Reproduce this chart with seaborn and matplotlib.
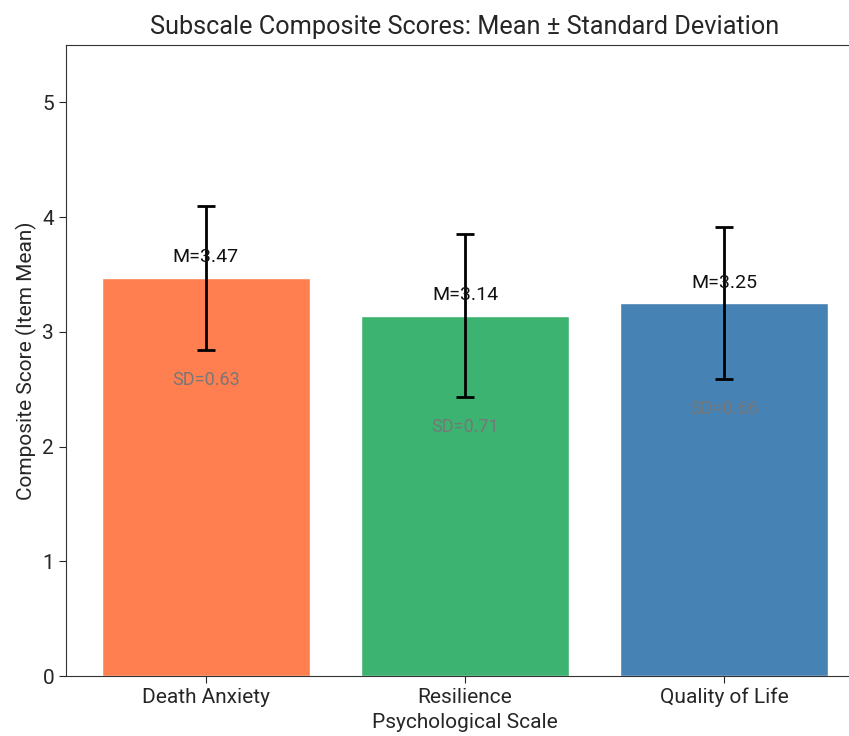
import matplotlib
matplotlib.use("Agg")
import matplotlib.pyplot as plt
import seaborn as sns
import pandas as pd

scales = ["Death Anxiety", "Resilience", "Quality of Life"]
means = [3.47, 3.14, 3.25]
sds = [0.63, 0.71, 0.66]
colors = ["#FF7F50", "#3CB371", "#4682B4"]

sns.set_style("ticks")
plt.rcParams['font.family'] = ['Roboto', 'DejaVu Sans']

df = pd.DataFrame({"scale": scales, "mean": means})

fig = plt.figure(figsize=(8.49, 7.36), dpi=100)
ax = fig.add_axes([66/849, 60/736, 798/849, 631/736])

sns.barplot(data=df, x="scale", y="mean", hue="scale", palette=colors,
            width=0.8, legend=False, ax=ax, saturation=1)
ax.errorbar(range(len(scales)), means, yerr=sds, fmt="none", ecolor="black",
            elinewidth=2, capsize=6.5, capthick=2)

for i, (m, s) in enumerate(zip(means, sds)):
    ax.text(i, m + 0.1, f"M={m:.2f}", ha="center", va="bottom", fontsize=14,
            color="#111111")
    ax.text(i, m - s - 0.26, f"SD={s:.2f}", ha="center", va="center", fontsize=13, color="#777777")

ax.set_ylim(0, 5.5)
ax.set_xlim(-0.54, 2.54)
ax.set_yticks([0, 1, 2, 3, 4, 5])
ax.tick_params(labelsize=15, length=5)
ax.set_xlabel("Psychological Scale", fontsize=15, labelpad=4)
ax.set_ylabel("Composite Score (Item Mean)", fontsize=15)
ax.set_title("Subscale Composite Scores: Mean ± Standard Deviation", fontsize=18.2, pad=8)
for sp in ax.spines.values():
    sp.set_color("#333333")
ax.spines["right"].set_visible(False)

fig.savefig("out.png", dpi=100)
